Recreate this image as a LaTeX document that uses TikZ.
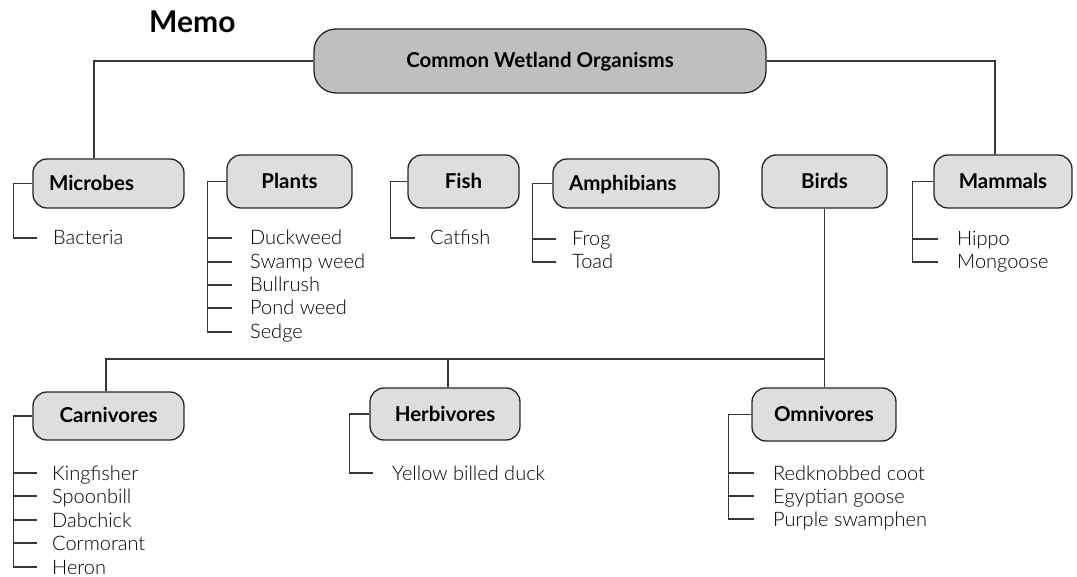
\documentclass[tikz,border=0pt]{standalone}
\usepackage{fontspec}
\setmainfont{Lato}
% light face for the list entries, when it is available
\IfFontExistsTF{Lato Light}
  {\newfontfamily\entryfont{Lato Light}}
  {\newfontfamily\entryfont{Lato}}
\begin{document}
\begin{tikzpicture}[x=1pt,y=-1pt,
  conn/.style={draw=black!78, line width=1.3pt},
  rootbox/.style={draw=black!85, line width=1.3pt, fill=black!25,
    rounded corners=22pt, inner sep=0pt,
    text height=14pt, text depth=0pt,
    font=\bfseries\fontsize{20.5}{24}\selectfont},
  catbox/.style={draw=black!85, line width=1.3pt, fill=black!13,
    rounded corners=14pt, inner sep=0pt,
    text height=14pt, text depth=0pt,
    font=\bfseries\fontsize{20.5}{24}\selectfont},
  leftbox/.style={catbox, inner xsep=16pt, text width=#1, align=left},
  entry/.style={anchor=west, inner sep=0pt, text height=14pt, text depth=0pt,
    font=\entryfont\fontsize{20}{22}\selectfont},
]
\useasboundingbox (0,0) rectangle (1077,577);

% title
\node[anchor=base west, inner sep=0pt, font=\bfseries\fontsize{30}{34}\selectfont] (memo) at (149,33) {Memo};

% root and first level
\node[rootbox, minimum width=452pt, minimum height=64pt] (root) at (540,61) {Common Wetland Organisms};

\node[leftbox=119pt, minimum width=151pt, minimum height=49pt] (microbes) at (108.5,183.5) {Microbes};
\node[catbox, minimum width=125pt, minimum height=53pt] (plants) at (289.5,181.5) {Plants};
\node[catbox, minimum width=111pt, minimum height=53pt] (fish) at (463.5,181.5) {Fish};
\node[leftbox=134pt, minimum width=166pt, minimum height=49pt] (amph) at (636,183.5) {Amphibians};
\node[catbox, minimum width=125pt, minimum height=53pt] (birds) at (824.5,181.5) {Birds};
\node[catbox, minimum width=138pt, minimum height=53pt] (mammals) at (1003,181.5) {Mammals};

% bird groups
\node[catbox, minimum width=151pt, minimum height=48pt] (carn) at (108.5,416) {Carnivores};
\node[catbox, minimum width=150pt, minimum height=52pt] (herb) at (445,414) {Herbivores};
\node[catbox, minimum width=144pt, minimum height=53pt] (omni) at (824,414.5) {Omnivores};

% entries
\node[entry] (bacteria) at (53,238) {Bacteria};

\node[entry] (duckweed) at (250,238) {Duckweed};
\node[entry] (swamp) at (250,262) {Swamp weed};
\node[entry] (bullrush) at (250,285) {Bullrush};
\node[entry] (pond) at (250,308) {Pond weed};
\node[entry] (sedge) at (250,332) {Sedge};

\node[entry] (catfish) at (430,238) {Catfish};

\node[entry] (frog) at (572,239) {Frog};
\node[entry] (toad) at (572,262) {Toad};

\node[entry] (hippo) at (957,239) {Hippo};
\node[entry] (mongoose) at (957,262) {Mongoose};

\node[entry] (kingfisher) at (52,473) {Kingfisher};
\node[entry] (spoonbill) at (52,496) {Spoonbill};
\node[entry] (dabchick) at (52,520) {Dabchick};
\node[entry] (cormorant) at (52,543) {Cormorant};
\node[entry] (heron) at (52,567) {Heron};

\node[entry] (duck) at (392,473) {Yellow billed duck};

\node[entry] (coot) at (773,473) {Redknobbed coot};
\node[entry] (goose) at (773,496) {Egyptian goose};
\node[entry] (swamphen) at (773,519) {Purple swamphen};

% root links
\draw[conn] (root.west) -| ([xshift=-14.5pt]microbes.north);
\draw[conn] (root.east) -| ([xshift=-8pt]mammals.north);

% birds and their groups
\coordinate (bus) at (824,359);
\coordinate (carntop) at ([xshift=-2.5pt]carn.north);
\coordinate (herbtop) at ([xshift=3pt]herb.north);
\draw[conn] (birds.south) -- (birds.south |- omni.north);
\draw[conn] (carntop) |- (bus);
\draw[conn] (herbtop) -- (herbtop |- bus);

% side brackets
\coordinate (mb) at ([xshift=-19pt]microbes.west);
\draw[conn] (microbes.west) -- (mb) -- (mb |- bacteria.west) -- ++(24,0);

\coordinate (pb) at ([xshift=-19pt]plants.west);
\draw[conn] (plants.west) -- (pb) -- (pb |- sedge.west) -- ++(25,0);
\foreach \n in {duckweed,swamp,bullrush,pond}
  \draw[conn] (pb |- \n.west) -- ++(25,0);

\coordinate (fb) at ([xshift=-17pt]fish.west);
\draw[conn] (fish.west) -- (fb) -- (fb |- catfish.west) -- ++(25,0);

\coordinate (ab) at ([xshift=-20pt]amph.west);
\draw[conn] (amph.west) -- (ab) -- (ab |- toad.west) -- ++(24,0);
\draw[conn] (ab |- frog.west) -- ++(24,0);

\coordinate (mmb) at ([xshift=-21pt]mammals.west);
\draw[conn] (mammals.west) -- (mmb) -- (mmb |- mongoose.west) -- ++(26,0);
\draw[conn] (mmb |- hippo.west) -- ++(26,0);

\coordinate (cb) at ([xshift=-19pt]carn.west);
\draw[conn] (carn.west) -- (cb) -- (cb |- heron.west) -- ++(24,0);
\foreach \n in {kingfisher,spoonbill,dabchick,cormorant}
  \draw[conn] (cb |- \n.west) -- ++(24,0);

\coordinate (hb) at ([xshift=-20pt]herb.west);
\draw[conn] (herb.west) -- (hb) -- (hb |- duck.west) -- ++(24,0);

\coordinate (ob) at ([xshift=-23pt]omni.west);
\draw[conn] (omni.west) -- (ob) -- (ob |- swamphen.west) -- ++(26,0);
\foreach \n in {coot,goose}
  \draw[conn] (ob |- \n.west) -- ++(26,0);
\end{tikzpicture}
\end{document}
